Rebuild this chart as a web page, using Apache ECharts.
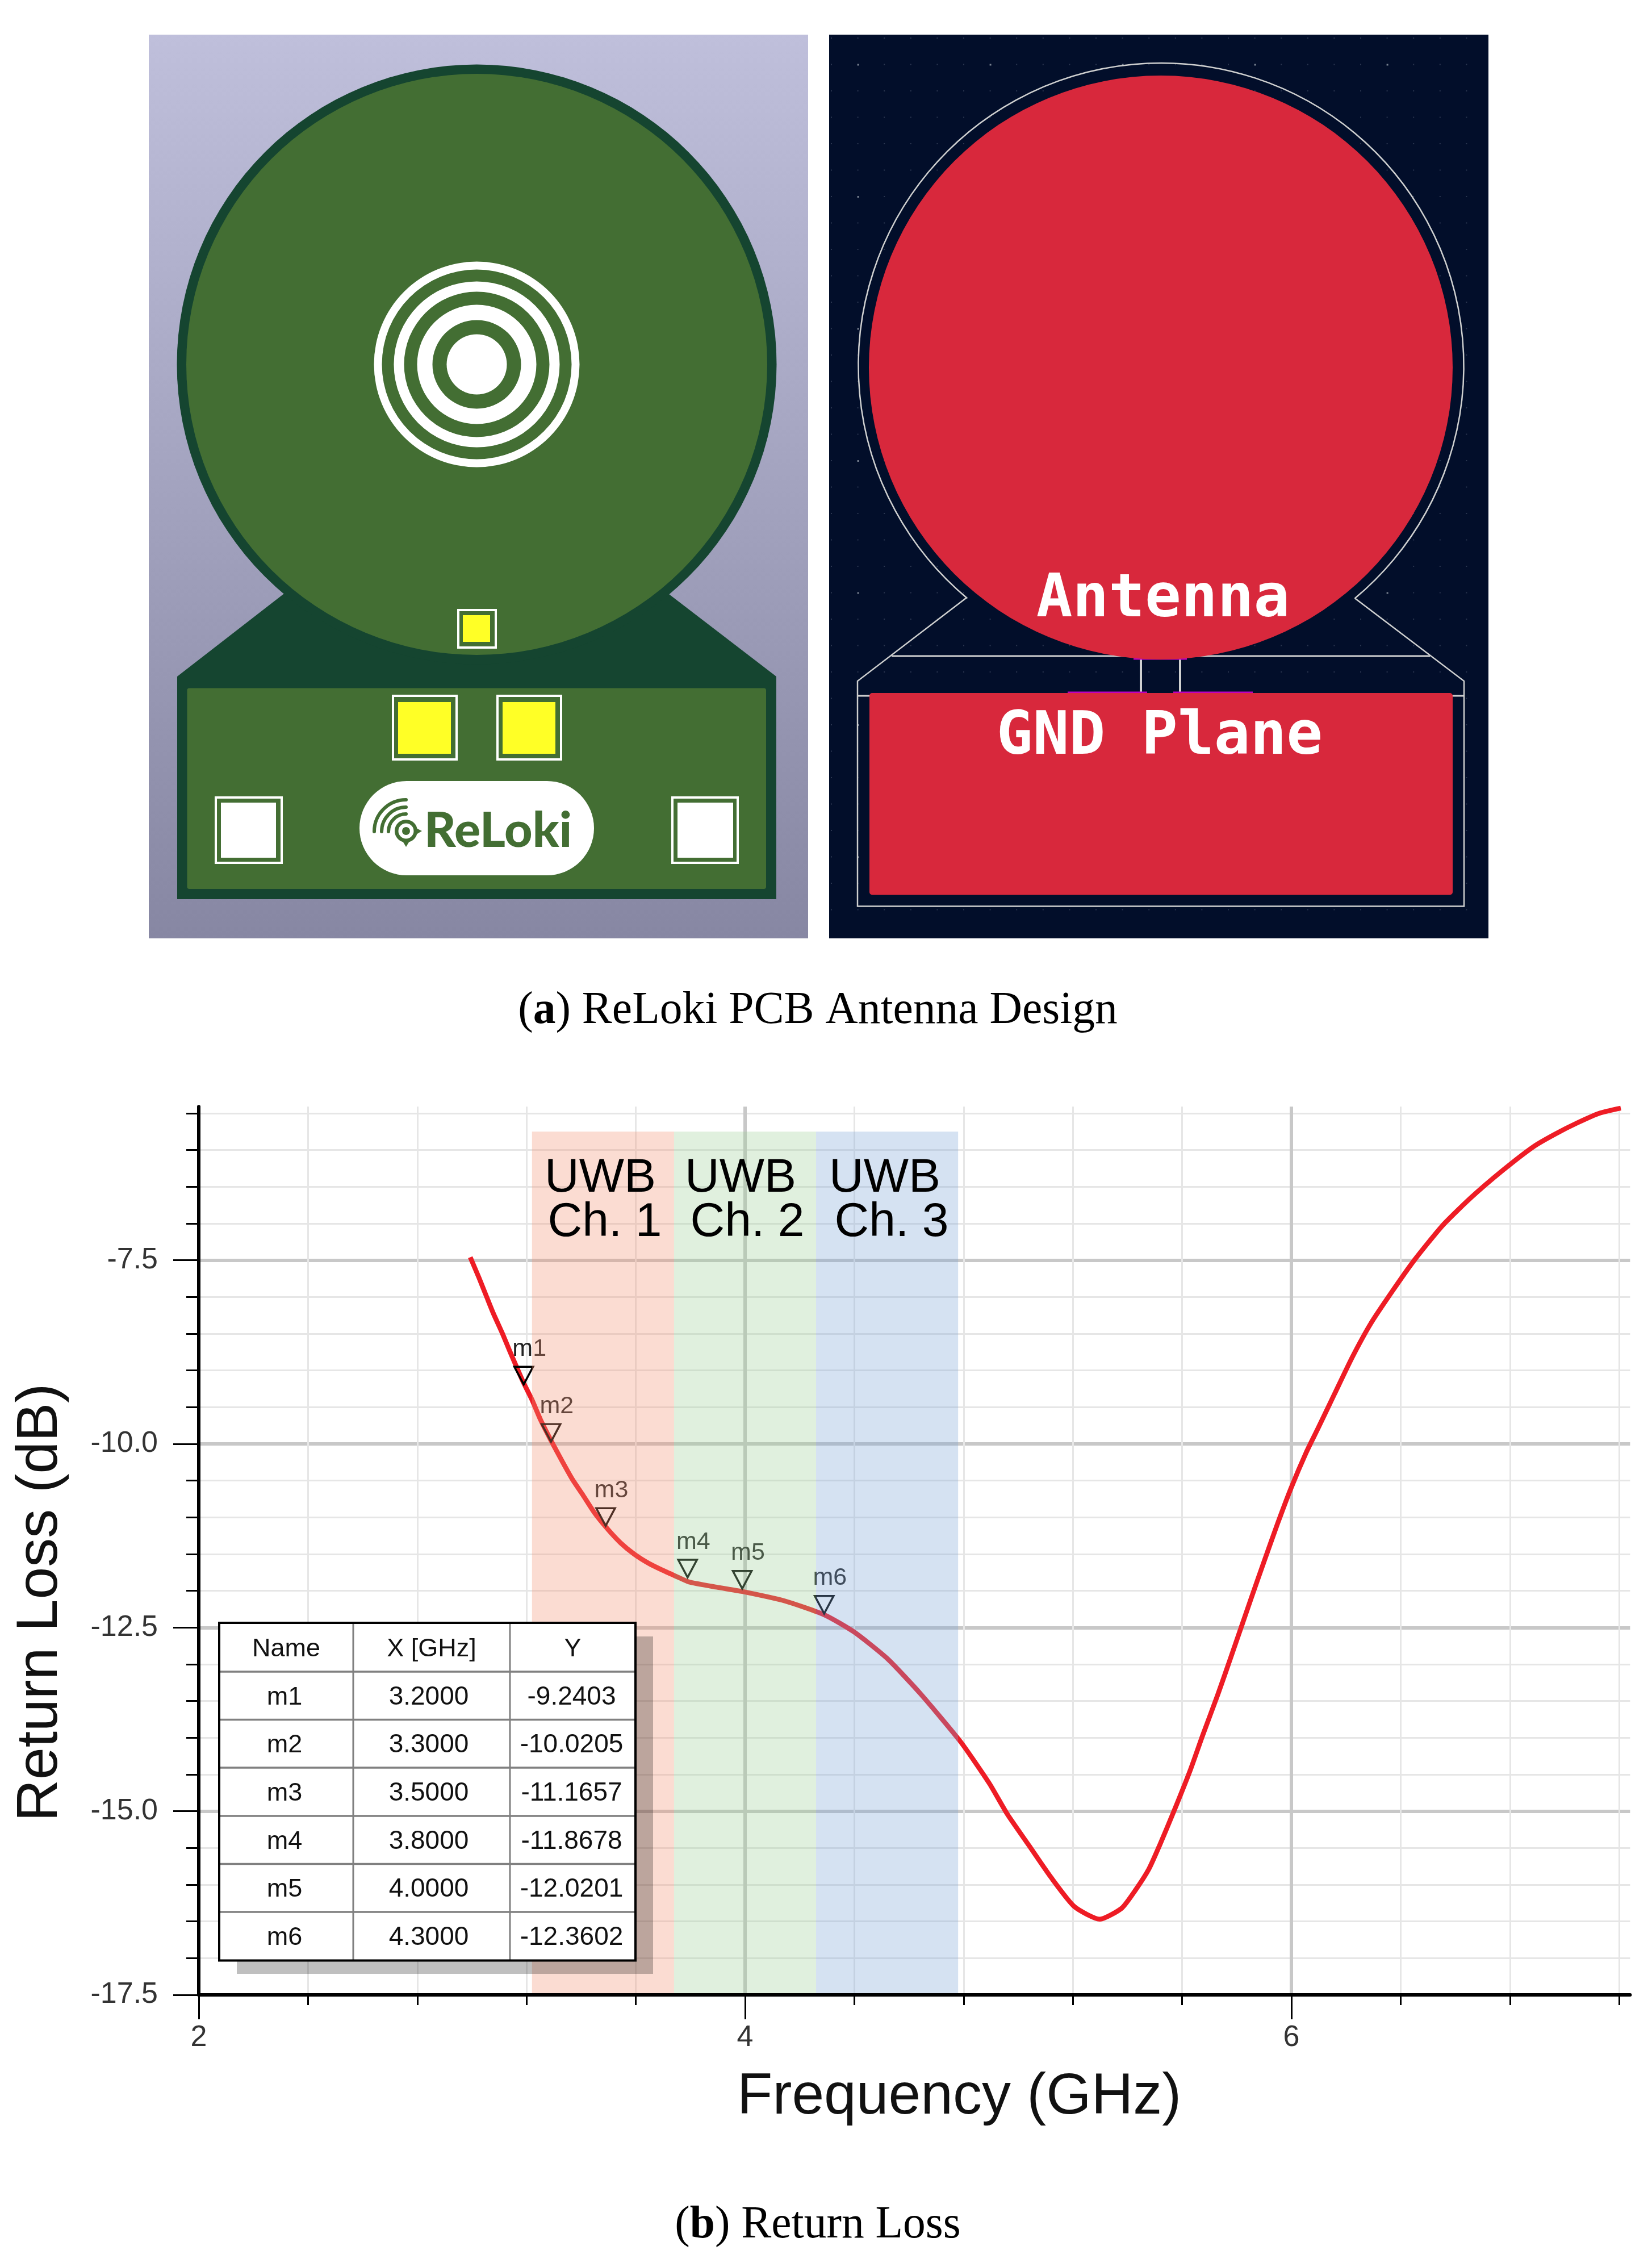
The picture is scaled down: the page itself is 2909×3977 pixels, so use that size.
<!DOCTYPE html>
<html>

<head>
    <title>ReLoki PCB antenna and return loss</title>
    <meta charset="utf-8">
    <script src="https://cdn.jsdelivr.net/npm/echarts@6/dist/echarts.min.js"></script>
    <style>
        html, body { margin: 0; padding: 0; background: #fff; }
    </style>
</head>

<body>
    <div id="main" style="width: 2909px;height:3977px;"></div>

    <script type="text/javascript">
        // values
        var freq = [2.994, 3.026, 3.053, 3.078, 3.112, 3.14, 3.188, 3.22, 3.251, 3.289, 3.331, 3.369, 3.407, 3.449, 3.497, 3.545, 3.594, 3.649, 3.698, 3.746,
            3.795, 3.895, 3.99, 4.147, 4.292, 4.399, 4.52, 4.642, 4.788, 4.894, 4.96, 5.04, 5.12, 5.206, 5.299, 5.379, 5.43, 5.478, 5.517, 5.57,
            5.63, 5.675, 5.73, 5.777, 5.815, 5.853, 5.902, 5.95, 5.999, 6.054, 6.096, 6.158, 6.223, 6.291, 6.37, 6.45, 6.553, 6.657, 6.776, 6.888,
            6.967, 7.047, 7.127, 7.206];
        var returnLoss = [-7.46, -7.74, -7.99, -8.22, -8.5, -8.75, -9.16, -9.4, -9.67, -9.95, -10.24, -10.49, -10.7, -10.94, -11.16, -11.35, -11.5, -11.63, -11.72, -11.8,
            -11.88, -11.95, -12.01, -12.14, -12.33, -12.56, -12.92, -13.4, -14.05, -14.62, -15.04, -15.47, -15.9, -16.3, -16.47, -16.32, -16.07, -15.79, -15.47, -15.0,
            -14.44, -13.97, -13.42, -12.92, -12.51, -12.1, -11.58, -11.08, -10.6, -10.12, -9.8, -9.32, -8.82, -8.36, -7.92, -7.5, -7.03, -6.65, -6.27, -5.95,
            -5.78, -5.63, -5.5, -5.43];

        // marker table
        var markerNames = ['m1', 'm2', 'm3', 'm4', 'm5', 'm6'];
        var markerX = ['3.2000', '3.3000', '3.5000', '3.8000', '4.0000', '4.3000'];
        var markerY = ['-9.2403', '-10.0205', '-11.1657', '-11.8678', '-12.0201', '-12.3602'];
        var tableHead = ['Name', 'X [GHz]', 'Y'];

        // UWB channel bands
        var bandStart = [3.22, 3.74, 4.26];
        var bandEnd = [3.74, 4.26, 4.78];
        var bandTop = -5.75;
        var bandColor = ['rgba(242,146,114,0.32)', 'rgba(158,208,152,0.32)', 'rgba(124,164,214,0.32)'];

        // axis ticks
        var xMin = 2, xMax = 7.24, yMin = -17.5, yMax = -5.41;
        var xMajor = [2, 4, 6];
        var xMinor = [2.4, 2.8, 3.2, 3.6, 4.4, 4.8, 5.2, 5.6, 6.4, 6.8, 7.2];
        var yMajor = [-17.5, -15, -12.5, -10, -7.5];
        var yMinor = [-17, -16.5, -16, -15.5, -14.5, -14, -13.5, -13, -12, -11.5, -11, -10.5, -9.5, -9, -8.5, -8, -7, -6.5, -6, -5.5];

        var shapes = [];

        function rect(x0, y0, x1, y1, fill, r, z) {
            shapes.push({
                type: 'rect', silent: true, z: z || 0,
                shape: { x: x0, y: y0, width: x1 - x0, height: y1 - y0, r: r || 0 },
                style: { fill: fill }
            });
        }
        function frame(x0, y0, x1, y1, color, w, z) {
            shapes.push({
                type: 'rect', silent: true, z: z || 0,
                shape: { x: x0, y: y0, width: x1 - x0, height: y1 - y0 },
                style: { fill: 'none', stroke: color, lineWidth: w }
            });
        }
        function poly(points, fill, z) {
            shapes.push({ type: 'polygon', silent: true, z: z || 0, shape: { points: points }, style: { fill: fill } });
        }
        function line(points, color, w, z) {
            shapes.push({
                type: 'polyline', silent: true, z: z || 0, shape: { points: points },
                style: { fill: 'none', stroke: color, lineWidth: w }
            });
        }
        function circle(cx, cy, r, fill, z) {
            shapes.push({ type: 'circle', silent: true, z: z || 0, shape: { cx: cx, cy: cy, r: r }, style: { fill: fill } });
        }
        function ring(cx, cy, r, r0, fill, z) {
            shapes.push({ type: 'ring', silent: true, z: z || 0, shape: { cx: cx, cy: cy, r: r, r0: r0 }, style: { fill: fill } });
        }
        function arc(cx, cy, r, a0, a1, color, w, cap, z) {
            shapes.push({
                type: 'arc', silent: true, z: z || 0,
                shape: { cx: cx, cy: cy, r: r, startAngle: a0, endAngle: a1, clockwise: true },
                style: { fill: 'none', stroke: color, lineWidth: w, lineCap: cap }
            });
        }
        function text(x, y, str, size, font, color, weight, z, align) {
            shapes.push({
                type: 'text', silent: true, z: z || 0, x: x, y: y,
                style: {
                    text: str, fontSize: size, fontFamily: font, fill: color, fontWeight: weight || 'normal',
                    textAlign: align || 'center', textVerticalAlign: 'middle'
                }
            });
        }

        // ---- left panel, PCB render ----
        var dark = '#154530', green = '#436e33', yellow = '#ffff26';
        rect(262, 61, 1423, 1652, new echarts.graphic.LinearGradient(0, 0, 0, 1, [
            { offset: 0, color: '#bfbfdb' }, { offset: 1, color: '#8787a3' }
        ]));
        poly([[312, 1191], [499, 1046], [1178, 1046], [1367, 1191], [1367, 1583], [312, 1583]], dark);
        circle(839.5, 641.5, 528, dark);
        circle(839.5, 641.5, 511.5, green);
        rect(329.5, 1211.5, 1349, 1565, green, 4);
        ring(839.5, 641.5, 181, 167, '#fff');
        ring(839.5, 641.5, 146, 128, '#fff');
        ring(839.5, 641.5, 105, 78, '#fff');
        circle(839.5, 641.5, 53, '#fff');

        frame(807, 1074, 873, 1140, '#fff', 4);
        rect(815, 1083, 863, 1130, yellow);
        frame(692, 1225, 804, 1337, '#fff', 4);
        rect(701, 1236, 794, 1327, yellow);
        frame(876, 1225, 988, 1337, '#fff', 4);
        rect(885, 1236, 978, 1327, yellow);
        frame(380, 1404, 496, 1519, '#fff', 4);
        rect(389, 1413, 486, 1510, '#fff');
        frame(1184, 1404, 1299, 1519, '#fff', 4);
        rect(1193, 1413, 1291, 1510, '#fff');

        rect(633, 1375, 1046, 1541, '#fff', 83);
        arc(715, 1464, 56, Math.PI, Math.PI * 1.5, green, 6, 'round');
        arc(715, 1464, 43, Math.PI, Math.PI * 1.5, green, 6, 'round');
        arc(715, 1464, 31, Math.PI, Math.PI * 1.5, green, 6, 'round');
        ring(715, 1463, 20, 13.5, green);
        circle(715, 1463, 7, green);
        poly([[733, 1458], [743, 1463], [733, 1469]], green);
        poly([[709, 1481], [715, 1491], [721, 1481]], green);
        text(877, 1463, 'ReLoki', 86, 'Lato', green, 900);

        // ---- right panel, layout view ----
        rect(1460, 61, 2621, 1652, '#020e2a');
        for (var i = 0; i < 25; i++) {
            for (var j = 0; j < 34; j++) {
                var bright = i % 5 === 1 && j % 5 === 1;
                rect(1463 + i * 46.6, 66 + j * 46.5, 1463 + i * 46.6 + (bright ? 3 : 2), 66 + j * 46.5 + (bright ? 3 : 2), bright ? '#77808f' : '#2b3650');
            }
        }
        var edge = '#cfd0d0';
        var notch = 50.2 * Math.PI / 180;
        arc(2044.5, 644, 533, Math.PI - notch, notch, edge, 2.5, 'butt');
        line([[1701, 1053], [1510, 1199], [1510, 1595.5], [2578, 1595.5], [2578, 1199], [2385.5, 1053]], edge, 2.5);
        line([[1510, 1225], [2578, 1225]], edge, 3);
        line([[1570, 1155], [2518, 1155]], edge, 3);
        line([[2009, 1155], [2009, 1222]], edge, 4);
        line([[2078, 1155], [2078, 1222]], edge, 4);
        line([[1880, 1219], [2020, 1219]], '#c000c0', 3);
        line([[2066, 1219], [2206, 1219]], '#c000c0', 3);
        line([[1996, 1160], [2090, 1160]], '#c000c0', 3);
        circle(2044, 647, 514, '#d8283c');
        rect(1531, 1220, 2558, 1575.5, '#d8283c', 5);
        text(2048, 1057, 'Antenna', 106, 'DejaVu Sans Mono', '#fff', 'bold');
        text(2042, 1299, 'GND Plane', 106, 'DejaVu Sans Mono', '#fff', 'bold');

        // captions
        function caption(y, tag, rest) {
            shapes.push({
                type: 'text', silent: true, x: 1440, y: y,
                style: {
                    text: '{n|(}{b|' + tag + '}{n|) ' + rest + '}', textAlign: 'center', textVerticalAlign: 'middle',
                    rich: {
                        n: { fontSize: 79.5, fontFamily: 'Liberation Serif', fill: '#000' },
                        b: { fontSize: 79.5, fontFamily: 'Liberation Serif', fontWeight: 'bold', fill: '#000' }
                    }
                }
            });
        }
        caption(1780, 'a', 'ReLoki PCB Antenna Design');
        caption(3918, 'b', 'Return Loss');

        // ---- text over the channel bands ----
        var sans = 'Liberation Sans';
        var uwbX = [1057, 1304, 1558], chX = [1065, 1316, 1570], chNames = ['Ch. 1', 'Ch. 2', 'Ch. 3'];
        for (var k = 0; k < 3; k++) {
            text(uwbX[k], 2075, 'UWB', 84, sans, '#000', 'normal', 60);
            text(chX[k], 2153, chNames[k], 84, sans, '#000', 'normal', 60);
        }

        // ---- marker table ----
        var colEdge = [386, 622, 898, 1119];
        var rowEdge = [2857, 2943, 3027.5, 3112, 3197, 3281.5, 3366, 3451.5];
        rect(417, 2881, 1150, 3475, 'rgba(0,0,0,0.25)', 0, 60);
        rect(386, 2857, 1119, 3451.5, '#fff', 0, 61);
        for (var c = 1; c < 3; c++) {
            line([[colEdge[c], rowEdge[0]], [colEdge[c], rowEdge[7]]], '#808080', 3, 62);
        }
        for (var r = 1; r < 7; r++) {
            line([[colEdge[0], rowEdge[r]], [colEdge[3], rowEdge[r]]], '#808080', 3.5, 62);
        }
        frame(386, 2857, 1119, 3451.5, '#000', 4, 63);
        for (var h = 0; h < 3; h++) {
            text((colEdge[h] + colEdge[h + 1]) / 2, (rowEdge[0] + rowEdge[1]) / 2 + 4, tableHead[h], 45, sans, '#111', 'normal', 64);
        }
        for (var m = 0; m < markerNames.length; m++) {
            var cy = (rowEdge[m + 1] + rowEdge[m + 2]) / 2 + 3;
            text((colEdge[0] + colEdge[1]) / 2 - 3, cy, markerNames[m], 45, sans, '#111', 'normal', 64);
            text((colEdge[1] + colEdge[2]) / 2 - 5, cy, markerX[m], 46, sans, '#111', 'normal', 64);
            text((colEdge[2] + colEdge[3]) / 2 - 2, cy, markerY[m], 46, sans, '#111', 'normal', 64);
        }

        var curve = freq.map(function (f, i) { return [f, returnLoss[i]]; });
        var markers = markerNames.map(function (n, i) {
            return { name: n, value: [parseFloat(markerX[i]), parseFloat(markerY[i])] };
        });
        var bands = bandStart.map(function (b, i) { return [b, bandEnd[i], bandTop, yMin, i]; });

        var noLine = { show: false }, noLabel = { show: false };
        function notMin(list, min) { return list.filter(function (v) { return v !== min; }); }

        var option = {
            animation: false,
            backgroundColor: '#fff',
            graphic: { elements: shapes },
            grid: { left: 350, top: 1948.3, width: 2520.4, height: 1563.7 },
            xAxis: [{
                // minor grid and short ticks
                type: 'value', position: 'bottom', min: xMin, max: xMax,
                axisLine: noLine, axisLabel: noLabel,
                axisTick: { customValues: xMinor, length: 18, lineStyle: { color: '#000', width: 3 } },
                splitLine: { show: true, lineStyle: { color: '#e6e6e6', width: 3 } }
            }, {
                // major grid
                type: 'value', position: 'bottom', min: xMin, max: xMax,
                axisLine: noLine, axisLabel: noLabel,
                axisTick: { show: false, customValues: notMin(xMajor, xMin) },
                splitLine: { show: true, lineStyle: { color: '#c8c8c8', width: 6 } }
            }, {
                // axis line, labels and name sit over the bands
                type: 'value', position: 'bottom', min: xMin, max: xMax, z: 10,
                name: 'Frequency (GHz)', nameLocation: 'middle', nameGap: 130,
                nameTextStyle: { fontSize: 102, fontFamily: sans, color: '#111', padding: [0, 0, 0, 158] },
                axisLine: { show: true, onZero: false, lineStyle: { color: '#000', width: 6 } },
                axisTick: { customValues: xMajor, length: 43, lineStyle: { color: '#000', width: 3 } },
                axisLabel: { customValues: xMajor, margin: 50, fontSize: 52, fontFamily: sans, color: '#333' },
                splitLine: { show: false }
            }],
            yAxis: [{
                type: 'value', position: 'left', min: yMin, max: yMax,
                axisLine: noLine, axisLabel: noLabel,
                axisTick: { customValues: yMinor, length: 22, lineStyle: { color: '#000', width: 3 } },
                splitLine: { show: true, lineStyle: { color: '#e6e6e6', width: 3 } }
            }, {
                type: 'value', position: 'left', min: yMin, max: yMax,
                axisLine: noLine, axisLabel: noLabel,
                axisTick: { show: false, customValues: notMin(yMajor, yMin) },
                splitLine: { show: true, lineStyle: { color: '#c8c8c8', width: 6 } }
            }, {
                type: 'value', position: 'left', min: yMin, max: yMax, z: 10,
                name: 'Return Loss (dB)', nameLocation: 'middle', nameGap: 227,
                nameTextStyle: { fontSize: 102, fontFamily: sans, color: '#111', padding: [0, 182, 0, 0] },
                axisLine: { show: true, onZero: false, lineStyle: { color: '#000', width: 6 } },
                axisTick: { customValues: yMajor, length: 45, lineStyle: { color: '#000', width: 3 } },
                axisLabel: {
                    customValues: yMajor, margin: 72, fontSize: 52, fontFamily: sans, color: '#333', padding: [12, 0, 0, 0],
                    formatter: function (v) { return v.toFixed(1); }
                },
                splitLine: { show: false }
            }],
            series: [{
                name: 'Return Loss',
                type: 'line',
                z: 2,
                data: curve,
                showSymbol: false,
                clip: false,
                smooth: 0.2,
                lineStyle: { color: '#ee1c25', width: 8.5, join: 'round' }
            }, {
                name: 'Markers',
                type: 'scatter',
                z: 3,
                data: markers,
                symbol: 'path://M0 0H32L16 30Z',
                symbolSize: [33, 31],
                symbolOffset: [-5, -22],
                itemStyle: { color: 'rgba(0,0,0,0)', borderColor: '#000', borderWidth: 3.5, opacity: 1 },
                label: {
                    show: true, position: 'top', distance: 8, offset: [10, 0],
                    formatter: '{b}', fontSize: 43, fontFamily: sans, color: '#222'
                }
            }, {
                name: 'UWB bands',
                type: 'custom',
                z: 4,
                silent: true,
                data: bands,
                encode: { x: [0, 1], y: [2, 3] },
                renderItem: function (params, api) {
                    var p0 = api.coord([api.value(0), api.value(2)]);
                    var p1 = api.coord([api.value(1), api.value(3)]);
                    return {
                        type: 'rect',
                        shape: { x: p0[0], y: p0[1], width: p1[0] - p0[0], height: p1[1] - p0[1] },
                        style: { fill: bandColor[api.value(4)] }
                    };
                }
            }]
        };

        var myChart = echarts.init(document.getElementById('main'));
        myChart.setOption(option);
    </script>
</body>

</html>
